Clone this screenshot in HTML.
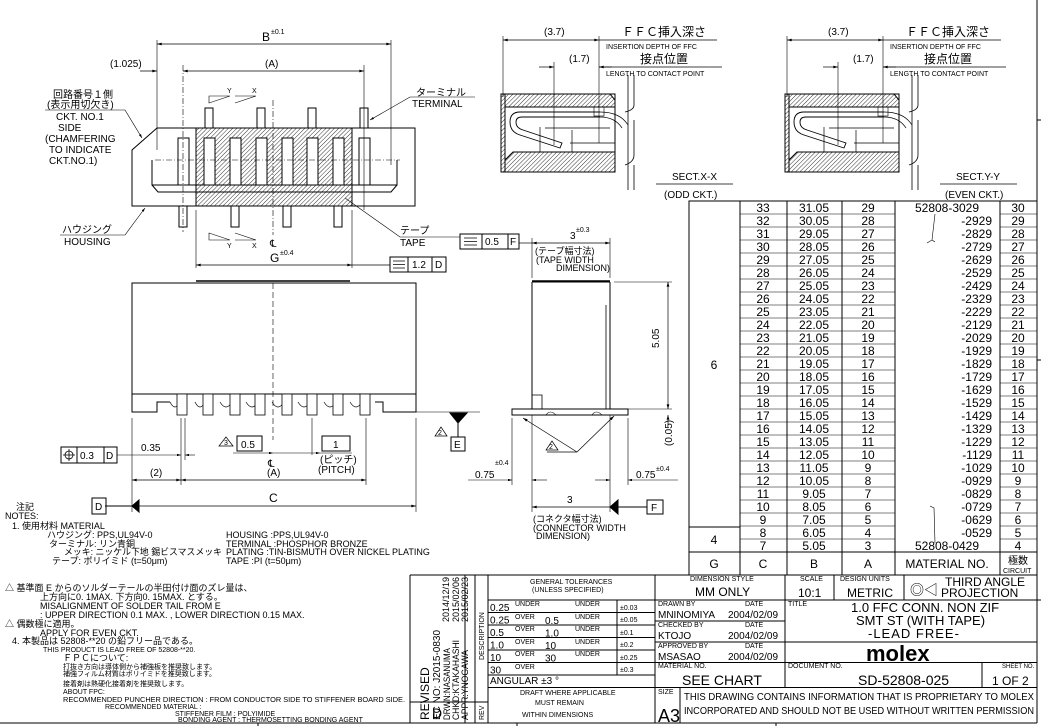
<!DOCTYPE html>
<html><head><meta charset="utf-8"><style>
html,body{margin:0;padding:0;background:#fff;}
svg{display:block;}
text{font-family:"Liberation Sans","Noto Sans CJK JP",sans-serif;fill:#000;}
.s{font-size:7px;}
.m{font-size:9px;}
.n{font-size:10px;}
.t{font-size:12px;}
.b{font-size:14px;}
</style></head><body>
<svg width="1041" height="726" viewBox="0 0 1041 726" xmlns="http://www.w3.org/2000/svg">
<defs>
<pattern id="h" width="3" height="3" patternUnits="userSpaceOnUse" patternTransform="rotate(45)"><line x1="0" y1="0" x2="0" y2="3" stroke="#000" stroke-width="0.8"/></pattern>
<marker id="a" viewBox="0 0 10 6" refX="10" refY="3" markerWidth="8" markerHeight="4" orient="auto-start-reverse"><path d="M0,0L10,3L0,6z" fill="#000"/></marker>
</defs>
<g fill="none" stroke="#000" stroke-width="1">
<line x1="1037" y1="0" x2="1037" y2="723"/>
<line x1="0" y1="723" x2="1037" y2="723"/>
<line x1="258" y1="723" x2="258" y2="726"/><line x1="517" y1="723" x2="517" y2="726"/><line x1="776" y1="723" x2="776" y2="726"/>
<line x1="1037" y1="120" x2="1041" y2="120"/><line x1="1037" y1="360" x2="1041" y2="360"/><line x1="1037" y1="600" x2="1041" y2="600"/>

<!-- TOP VIEW -->
<path d="M157,128H415V206H132V150Z"/>
<path d="M152,160V185H397V160M152,185L158,192H391L397,185"/>
<rect x="196" y="128" width="156" height="78" fill="url(#h)"/>
<rect x="196" y="128" width="156" height="78"/>
<g fill="#fff">
<rect x="178" y="138" width="11" height="47"/><rect x="204" y="138" width="11" height="47"/><rect x="230" y="138" width="11" height="47"/><rect x="256" y="138" width="11" height="47"/><rect x="282" y="138" width="11" height="47"/><rect x="307" y="138" width="11" height="47"/><rect x="333" y="138" width="11" height="47"/><rect x="359" y="138" width="11" height="47"/>
<rect x="205" y="108" width="8" height="20"/><rect x="257" y="108" width="8" height="20"/><rect x="308" y="108" width="8" height="20"/><rect x="360" y="108" width="8" height="20"/>
<rect x="179" y="206" width="8" height="21"/><rect x="231" y="206" width="8" height="21"/><rect x="283" y="206" width="8" height="21"/><rect x="334" y="206" width="8" height="21"/>
</g>
<line x1="155" y1="160" x2="400" y2="160" stroke-dasharray="6,2,1,2" stroke-width="0.6"/>
<line x1="273" y1="100" x2="273" y2="235" stroke-dasharray="6,2,1,2" stroke-width="0.6"/>
<line x1="183" y1="65" x2="183" y2="232" stroke-dasharray="6,2,1,2" stroke-width="0.6"/>
<line x1="157" y1="40" x2="157" y2="150" stroke-width="0.6"/>
<line x1="391" y1="40" x2="391" y2="165" stroke-width="0.6"/>
<line x1="364" y1="65" x2="364" y2="210" stroke-width="0.6"/>
<line x1="157" y1="44" x2="391" y2="44" stroke-width="0.7" marker-start="url(#a)" marker-end="url(#a)"/>
<line x1="183" y1="71" x2="364" y2="71" stroke-width="0.7" marker-start="url(#a)" marker-end="url(#a)"/>
<line x1="140" y1="71" x2="157" y2="71" stroke-width="0.7" marker-end="url(#a)"/>
<line x1="196" y1="210" x2="196" y2="268" stroke-width="0.6"/><line x1="352" y1="210" x2="352" y2="268" stroke-width="0.6"/>
<line x1="196" y1="265" x2="352" y2="265" stroke-width="0.7" marker-start="url(#a)" marker-end="url(#a)"/>
<line x1="352" y1="265" x2="390" y2="265" stroke-width="0.7"/>
<path d="M209,96H230L209,103ZM235,96H256L235,103" stroke-width="0.6"/>
<path d="M209,240H230L209,233ZM235,240H256L235,233" stroke-width="0.6"/>
<path d="M45,110H125L142,138" stroke-width="0.6" marker-end="url(#a)"/>
<path d="M60,235H125L145,208" stroke-width="0.6" marker-end="url(#a)"/>
<path d="M475,97H410L370,120" stroke-width="0.6" marker-end="url(#a)"/>
<path d="M460,237H400L345,198" stroke-width="0.6"/>
<rect x="390" y="257" width="56" height="15"/><line x1="408" y1="257" x2="408" y2="272"/><line x1="432" y1="257" x2="432" y2="272"/>
<path d="M393,261H405M393,264.5H405M393,268H405" stroke-width="0.7"/>

<!-- SECTIONS -->
<g id="sec">
<rect x="501" y="94" width="114" height="78"/>
<path d="M505,94H610L615,100V107H505Z" fill="url(#h)"/>
<path d="M513,152H615V172H505V160Z" fill="url(#h)"/>
<rect x="501" y="94" width="4" height="78" fill="url(#h)"/>
<path d="M505,107H615M540,127V152M545,128H610M570,143H615M572,130V152" stroke-width="0.7"/>
<path d="M628,75V190M634,75V105Q634,110 625,112M634,120V155Q634,162 625,165M634,165V190" stroke-width="0.8"/>
<path d="M600,112H520Q510,112 510,122Q510,132 520,135L560,148L562,143L523,130Q516,128 516,122Q516,117 522,117H600" stroke-width="0.9"/>
<path d="M600,112Q620,112 628,125M600,117Q615,117 622,128" stroke-width="0.7"/>
<rect x="594" y="107" width="10" height="9" stroke-width="0.6"/>
<line x1="503" y1="36" x2="503" y2="97" stroke-width="0.6"/>
<line x1="599" y1="36" x2="599" y2="143" stroke-width="0.6"/>
<line x1="554" y1="62" x2="554" y2="145" stroke-width="0.6"/>
<line x1="503" y1="40" x2="599" y2="40" stroke-width="0.7" marker-start="url(#a)" marker-end="url(#a)"/>
<line x1="599" y1="40" x2="717" y2="40" stroke-width="0.7"/>
<line x1="539" y1="67" x2="554" y2="67" stroke-width="0.7" marker-end="url(#a)"/>
<line x1="599" y1="67" x2="722" y2="67" stroke-width="0.7"/>
<line x1="612" y1="67" x2="599" y2="67" stroke-width="0.7" marker-end="url(#a)"/>
<line x1="656" y1="184" x2="733" y2="184" stroke-width="0.8"/>
</g>
<use href="#sec" x="284"/>

<!-- FRONT VIEW -->
<rect x="132" y="283" width="284" height="111"/>
<line x1="196" y1="281" x2="350" y2="281" stroke-width="1.5"/>
<path d="M132,394V412H157V402H170M375,402H383V412H416V394" />
<path d="M170,402Q175,412 180,402M195,402Q200,412 205,402M220,402Q226,412 232,402M246,402Q252,412 258,402M272,402Q278,412 284,402M298,402Q304,412 310,402M324,402Q330,412 336,402M350,402Q356,412 362,402" stroke-width="0.7"/>
<g fill="#fff" stroke-width="0.8">
<rect x="177" y="394" width="10" height="21"/><rect x="203" y="394" width="10" height="21"/><rect x="230" y="394" width="10" height="21"/><rect x="255" y="394" width="10" height="21"/><rect x="282" y="394" width="10" height="21"/><rect x="307" y="394" width="10" height="21"/><rect x="333" y="394" width="10" height="21"/><rect x="360" y="394" width="10" height="21"/>
</g>
<line x1="273" y1="283" x2="273" y2="440" stroke-dasharray="6,3" stroke-width="0.6"/>
<line x1="416" y1="412" x2="480" y2="412" stroke-width="0.6"/>
<line x1="132" y1="418" x2="132" y2="512" stroke-width="0.6"/><line x1="416" y1="418" x2="416" y2="512" stroke-width="0.6"/>
<line x1="181" y1="418" x2="181" y2="485" stroke-width="0.6"/><line x1="185" y1="418" x2="185" y2="460" stroke-width="0.6"/>
<line x1="366" y1="418" x2="366" y2="485" stroke-width="0.6"/><line x1="312" y1="418" x2="312" y2="455" stroke-width="0.6"/>
<line x1="132" y1="480" x2="181" y2="480" stroke-width="0.7" marker-start="url(#a)" marker-end="url(#a)"/>
<line x1="181" y1="480" x2="366" y2="480" stroke-width="0.7" marker-start="url(#a)" marker-end="url(#a)"/>
<line x1="132" y1="506" x2="416" y2="506" stroke-width="0.7" marker-end="url(#a)"/>
<path d="M132,506L139,500V512Z" fill="#000"/><line x1="105" y1="506" x2="132" y2="506"/>
<rect x="92" y="498" width="14" height="16"/>
<line x1="117" y1="455" x2="181" y2="455" stroke-width="0.6" marker-end="url(#a)"/>
<line x1="195" y1="455" x2="185" y2="455" stroke-width="0.6" marker-end="url(#a)"/>
<rect x="61" y="447" width="56" height="16"/><line x1="77" y1="447" x2="77" y2="463"/><line x1="104" y1="447" x2="104" y2="463"/>
<circle cx="69" cy="455" r="4" stroke-width="0.8"/><path d="M63,455H75M69,449V461" stroke-width="0.8"/>
<path d="M233,446L226,437L219,446Z" stroke-width="0.7"/>
<rect x="237" y="436" width="25" height="15"/><line x1="233" y1="453" x2="273" y2="453" stroke-width="0.6" marker-end="url(#a)"/>
<line x1="273" y1="453" x2="320" y2="453" stroke-width="0.6" marker-end="url(#a)"/>
<rect x="322" y="436" width="28" height="15"/><line x1="320" y1="453" x2="352" y2="453" stroke-width="0.6"/>
<path d="M450,413H467L458,423Z" fill="#000"/><line x1="458" y1="420" x2="458" y2="437"/>
<rect x="451" y="437" width="14" height="14"/>
<path d="M447,436L441,427L435,436Z" stroke-width="0.7"/>

<!-- SIDE VIEW -->
<path d="M532,282V409M610,282V409M532,282H610" />
<line x1="532" y1="281" x2="610" y2="281" stroke-width="1.5"/>
<path d="M606,305V409M532,395H542V409" stroke-width="0.8"/>
<rect x="512" y="409" width="116" height="6"/>
<path d="M546,415Q550,409 556,415M592,415Q596,409 602,415" stroke-width="0.6"/>
<line x1="577" y1="452" x2="523" y2="418" stroke-width="0.7" marker-end="url(#a)"/>
<line x1="577" y1="452" x2="614" y2="416" stroke-width="0.7" marker-end="url(#a)"/>
<line x1="547" y1="452" x2="577" y2="452" stroke-width="0.7"/>
<path d="M558,450L552,441L546,450Z" stroke-width="0.7"/>
<line x1="614" y1="282" x2="672" y2="282" stroke-width="0.6"/>
<line x1="628" y1="409" x2="672" y2="409" stroke-width="0.6"/>
<line x1="668" y1="282" x2="668" y2="409" stroke-width="0.7" marker-start="url(#a)" marker-end="url(#a)"/>
<line x1="668" y1="425" x2="668" y2="415" stroke-width="0.7" marker-end="url(#a)"/>
<line x1="512" y1="418" x2="512" y2="485" stroke-width="0.6"/>
<line x1="532" y1="415" x2="532" y2="512" stroke-width="0.6"/>
<line x1="610" y1="415" x2="610" y2="512" stroke-width="0.6"/>
<line x1="628" y1="418" x2="628" y2="485" stroke-width="0.6"/>
<line x1="468" y1="480" x2="512" y2="480" stroke-width="0.6" marker-end="url(#a)"/>
<line x1="547" y1="480" x2="532" y2="480" stroke-width="0.6" marker-end="url(#a)"/>
<line x1="595" y1="480" x2="610" y2="480" stroke-width="0.6" marker-end="url(#a)"/>
<line x1="678" y1="480" x2="628" y2="480" stroke-width="0.6" marker-end="url(#a)"/>
<line x1="532" y1="507" x2="610" y2="507" stroke-width="0.7" marker-start="url(#a)"/>
<path d="M610,507L618,500V514Z" fill="#000"/><line x1="618" y1="507" x2="647" y2="507"/>
<rect x="647" y="500" width="16" height="14"/>
<line x1="532" y1="238" x2="532" y2="278" stroke-width="0.6"/><line x1="610" y1="238" x2="610" y2="278" stroke-width="0.6"/>
<line x1="532" y1="243" x2="610" y2="243" stroke-width="0.7" marker-start="url(#a)" marker-end="url(#a)"/>
<line x1="519" y1="243" x2="532" y2="243" stroke-width="0.7"/>
<rect x="460" y="234" width="59" height="15"/><line x1="482" y1="234" x2="482" y2="249"/><line x1="508" y1="234" x2="508" y2="249"/>
<path d="M464,238H477M464,241.5H477M464,245H477" stroke-width="0.7"/>

<!-- TABLE -->
<rect x="689" y="201" width="348" height="374"/>
<path d="M740,201V575M787,201V575M842,201V575M895,201V575M1000,201V575"/>
<path d="M689,527H740M689,552H1037"/>
<g stroke-width="0.6">
<path d="M740,214H895M1000,214H1037M740,227H895M1000,227H1037M740,240H895M1000,240H1037M740,253H895M1000,253H1037M740,266H895M1000,266H1037M740,279H895M1000,279H1037M740,292H895M1000,292H1037M740,305H895M1000,305H1037M740,318H895M1000,318H1037M740,331H895M1000,331H1037M740,344H895M1000,344H1037M740,357H895M1000,357H1037M740,370H895M1000,370H1037M740,383H895M1000,383H1037M740,396H895M1000,396H1037M740,409H895M1000,409H1037M740,422H895M1000,422H1037M740,435H895M1000,435H1037M740,448H895M1000,448H1037M740,461H895M1000,461H1037M740,474H895M1000,474H1037M740,487H895M1000,487H1037M740,500H895M1000,500H1037M740,513H895M1000,513H1037M740,526H895M1000,526H1037M740,539H895M1000,539H1037"/>
<path d="M935,214L932,240L927,243M932,240L935,242M935,543L934,508L930,506"/>
</g>

<!-- TITLE BLOCK -->
<path d="M410,575H1037M410,575V723M465,575V723M475,575V723M488,575V723M655,575V723M785,575V687M834,575V600M904,575V600"/>
<path d="M488,600H1037M488,612.5H655M488,625H655M488,637.5H655M488,650H655M488,662.5H655M488,675H655M488,687.5H1037M410,702H488"/>
<path d="M617,600V675M655,621H785M655,642H785M655,662.5H1037M785,642H1037M982,662.5V687.5M680,687.5V723"/>
</g>

<!-- TEXT: top view -->
<text class="t" x="262" y="41">B</text><text class="s" x="271" y="34">±0.1</text>
<text class="n" x="265" y="67">(A)</text>
<text class="n" x="110" y="67">(1.025)</text>
<text class="s" x="227" y="93">Y</text><text class="s" x="252" y="93">X</text>
<text class="s" x="227" y="248">Y</text><text class="s" x="252" y="248">X</text>
<text class="n" x="270" y="247">℄</text>
<text class="t" x="270" y="262">G</text><text class="s" x="280" y="255">±0.4</text>
<text class="n" x="53" y="98">回路番号１側</text>
<text class="n" x="47" y="108">(表示用切欠き)</text>
<text class="n" x="56" y="120">CKT. NO.1</text>
<text class="n" x="58" y="131">SIDE</text>
<text class="n" x="45" y="142">(CHAMFERING</text>
<text class="n" x="49" y="153">TO INDICATE</text>
<text class="n" x="49" y="164">CKT.NO.1)</text>
<text class="n" x="62" y="233">ハウジング</text><text class="n" x="64" y="245">HOUSING</text>
<text class="n" x="416" y="96">ターミナル</text><text class="n" x="412" y="107">TERMINAL</text>
<text class="n" x="400" y="234">テープ</text><text class="n" x="400" y="246">TAPE</text>
<text class="n" x="412" y="268">1.2</text><text class="n" x="435" y="268">D</text>

<g id="sectxt">
<text class="n" x="544" y="35">(3.7)</text>
<text class="t" x="622" y="36">ＦＦＣ挿入深さ</text>
<text class="s" x="606" y="49">INSERTION DEPTH OF FFC</text>
<text class="n" x="569" y="62">(1.7)</text>
<text class="t" x="640" y="63">接点位置</text>
<text class="s" x="606" y="76">LENGTH TO CONTACT POINT</text>
</g>
<use href="#sectxt" x="284"/>
<text class="n" x="672" y="180">SECT.X-X</text><text class="n" x="664" y="198">(ODD CKT.)</text>
<text class="n" x="956" y="180">SECT.Y-Y</text><text class="n" x="945" y="198">(EVEN CKT.)</text>

<text class="n" x="268" y="467">℄</text>
<text class="n" x="141" y="451">0.35</text>
<text class="n" x="150" y="476">(2)</text>
<text class="n" x="267" y="476">(A)</text>
<text class="t" x="269" y="502">C</text>
<text class="n" x="95" y="510">D</text>
<text class="n" x="80" y="459">0.3</text><text class="n" x="106" y="459">D</text>
<text class="s" x="224" y="445">3</text>
<text class="n" x="241" y="448">0.5</text>
<text class="n" x="333" y="448">1</text>
<text class="n" x="320" y="463">(ピッチ)</text>
<text class="n" x="318" y="473">(PITCH)</text>
<text class="n" x="454" y="448">E</text>
<text class="s" x="438" y="435">2</text>
<text class="s" x="549" y="449">2</text>
<text class="n" x="570" y="239">3</text><text class="s" x="576" y="232">±0.3</text>
<text class="n" x="485" y="245">0.5</text><text class="n" x="510" y="245">F</text>
<text class="m" x="535" y="254">(テープ幅寸法)</text>
<text class="m" x="536" y="263">(TAPE WIDTH</text>
<text class="m" x="556" y="271">DIMENSION)</text>
<text class="n" transform="translate(659,348) rotate(-90)">5.05</text>
<text class="n" transform="translate(672,446) rotate(-90)">(0.05)</text>
<text class="n" x="475" y="478">0.75</text><text class="s" x="495" y="465">±0.4</text>
<text class="n" x="636" y="478">0.75</text><text class="s" x="656" y="471">±0.4</text>
<text class="n" x="567" y="503">3</text>
<text class="n" x="651" y="511">F</text>
<text class="m" x="533" y="522">(コネクタ幅寸法)</text>
<text class="m" x="533" y="531">(CONNECTOR WIDTH</text>
<text class="m" x="536" y="539">DIMENSION)</text>

<!-- notes -->
<text class="m" x="16" y="510">注記</text>
<text class="m" x="5" y="519">NOTES:</text>
<text class="m" x="12" y="529">1. 使用材料 MATERIAL</text>
<text class="m" x="47" y="538">ハウジング: PPS,UL94V-0</text>
<text class="m" x="49" y="547">ターミナル: リン青銅</text>
<text class="m" x="64" y="555" textLength="158" lengthAdjust="spacingAndGlyphs">メッキ: ニッケル下地 錫ビスマスメッキ</text>
<text class="m" x="52" y="564">テープ: ポリイミド (t=50μm)</text>
<text class="m" x="226" y="538">HOUSING    :PPS,UL94V-0</text>
<text class="m" x="226" y="547">TERMINAL  :PHOSPHOR BRONZE</text>
<text class="m" x="226" y="555">PLATING    :TIN-BISMUTH OVER NICKEL PLATING</text>
<text class="m" x="226" y="564">TAPE   :PI (t=50μm)</text>
<text class="m" x="5" y="591">△ 基準面 E からのソルダーテールの半田付け面のズレ量は、</text>
<text class="m" x="40" y="600">上方向に0. 1MAX. 下方向0. 15MAX. とする。</text>
<text class="m" x="40" y="609">MISALIGNMENT OF SOLDER TAIL FROM E</text>
<text class="m" x="40" y="618">: UPPER DIRECTION 0.1 MAX.  , LOWER DIRECTION 0.15 MAX.</text>
<text class="m" x="5" y="627">△  偶数極に適用。</text>
<text class="m" x="40" y="636">APPLY FOR EVEN CKT.</text>
<text class="m" x="12" y="644">4. 本製品は 52808-**20 の鉛フリー品である。</text>
<text class="s" x="43" y="652">THIS PRODUCT IS LEAD FREE OF 52808-**20.</text>
<text class="m" x="63" y="661">ＦＰＣについて:</text>
<text class="s" x="63" y="669">打抜き方向は導体側から補強板を推奨致します。</text>
<text class="s" x="63" y="676">補強フィルム材質はポリイミドを推奨致します。</text>
<text class="s" x="63" y="686">接着剤は熱硬化接着剤を推奨致します。</text>
<text class="s" x="63" y="694">ABOUT FPC:</text>
<text class="s" x="63" y="702" textLength="342" lengthAdjust="spacingAndGlyphs">RECOMMENDED PUNCHER DIRECTION : FROM CONDUCTOR SIDE TO STIFFENER BOARD SIDE.</text>
<text class="s" x="105" y="709">RECOMMENDED MATERIAL :</text>
<text class="s" x="175" y="716">STIFFENER FILM : POLYIMIDE</text>
<text class="s" x="178" y="722">BONDING AGENT : THERMOSETTING BONDING AGENT</text>

<!-- table text -->
<g class="t" text-anchor="middle">
<text x="763" y="212">33</text><text x="814" y="212">31.05</text><text x="868" y="212">29</text><text x="947" y="212">52808-3029</text><text x="1018" y="212">30</text>
<text x="763" y="225">32</text><text x="814" y="225">30.05</text><text x="868" y="225">28</text><text x="1018" y="225">29</text>
<text x="763" y="238">31</text><text x="814" y="238">29.05</text><text x="868" y="238">27</text><text x="1018" y="238">28</text>
<text x="763" y="251">30</text><text x="814" y="251">28.05</text><text x="868" y="251">26</text><text x="1018" y="251">27</text>
<text x="763" y="264">29</text><text x="814" y="264">27.05</text><text x="868" y="264">25</text><text x="1018" y="264">26</text>
<text x="763" y="277">28</text><text x="814" y="277">26.05</text><text x="868" y="277">24</text><text x="1018" y="277">25</text>
<text x="763" y="290">27</text><text x="814" y="290">25.05</text><text x="868" y="290">23</text><text x="1018" y="290">24</text>
<text x="763" y="303">26</text><text x="814" y="303">24.05</text><text x="868" y="303">22</text><text x="1018" y="303">23</text>
<text x="763" y="316">25</text><text x="814" y="316">23.05</text><text x="868" y="316">21</text><text x="1018" y="316">22</text>
<text x="763" y="329">24</text><text x="814" y="329">22.05</text><text x="868" y="329">20</text><text x="1018" y="329">21</text>
<text x="763" y="342">23</text><text x="814" y="342">21.05</text><text x="868" y="342">19</text><text x="1018" y="342">20</text>
<text x="763" y="355">22</text><text x="814" y="355">20.05</text><text x="868" y="355">18</text><text x="1018" y="355">19</text>
<text x="763" y="368">21</text><text x="814" y="368">19.05</text><text x="868" y="368">17</text><text x="1018" y="368">18</text>
<text x="763" y="381">20</text><text x="814" y="381">18.05</text><text x="868" y="381">16</text><text x="1018" y="381">17</text>
<text x="763" y="394">19</text><text x="814" y="394">17.05</text><text x="868" y="394">15</text><text x="1018" y="394">16</text>
<text x="763" y="407">18</text><text x="814" y="407">16.05</text><text x="868" y="407">14</text><text x="1018" y="407">15</text>
<text x="763" y="420">17</text><text x="814" y="420">15.05</text><text x="868" y="420">13</text><text x="1018" y="420">14</text>
<text x="763" y="433">16</text><text x="814" y="433">14.05</text><text x="868" y="433">12</text><text x="1018" y="433">13</text>
<text x="763" y="446">15</text><text x="814" y="446">13.05</text><text x="868" y="446">11</text><text x="1018" y="446">12</text>
<text x="763" y="459">14</text><text x="814" y="459">12.05</text><text x="868" y="459">10</text><text x="1018" y="459">11</text>
<text x="763" y="472">13</text><text x="814" y="472">11.05</text><text x="868" y="472">9</text><text x="1018" y="472">10</text>
<text x="763" y="485">12</text><text x="814" y="485">10.05</text><text x="868" y="485">8</text><text x="1018" y="485">9</text>
<text x="763" y="498">11</text><text x="814" y="498">9.05</text><text x="868" y="498">7</text><text x="1018" y="498">8</text>
<text x="763" y="511">10</text><text x="814" y="511">8.05</text><text x="868" y="511">6</text><text x="1018" y="511">7</text>
<text x="763" y="524">9</text><text x="814" y="524">7.05</text><text x="868" y="524">5</text><text x="1018" y="524">6</text>
<text x="763" y="537">8</text><text x="814" y="537">6.05</text><text x="868" y="537">4</text><text x="1018" y="537">5</text>
<text x="763" y="550">7</text><text x="814" y="550">5.05</text><text x="868" y="550">3</text><text x="947" y="550">52808-0429</text><text x="1018" y="550">4</text>
<text x="714" y="369">6</text><text x="714" y="544">4</text>
<text x="714" y="568">G</text><text x="763" y="568">C</text><text x="814" y="568">B</text><text x="868" y="568">A</text><text x="947" y="568">MATERIAL NO.</text>
</g>
<g class="t" text-anchor="end">
<text x="992" y="225">-2929</text><text x="992" y="238">-2829</text><text x="992" y="251">-2729</text><text x="992" y="264">-2629</text><text x="992" y="277">-2529</text><text x="992" y="290">-2429</text><text x="992" y="303">-2329</text><text x="992" y="316">-2229</text><text x="992" y="329">-2129</text><text x="992" y="342">-2029</text><text x="992" y="355">-1929</text><text x="992" y="368">-1829</text><text x="992" y="381">-1729</text><text x="992" y="394">-1629</text><text x="992" y="407">-1529</text><text x="992" y="420">-1429</text><text x="992" y="433">-1329</text><text x="992" y="446">-1229</text><text x="992" y="459">-1129</text><text x="992" y="472">-1029</text><text x="992" y="485">-0929</text><text x="992" y="498">-0829</text><text x="992" y="511">-0729</text><text x="992" y="524">-0629</text><text x="992" y="537">-0529</text>
</g>
<text class="n" x="1008" y="564">極数</text><text class="s" x="1003" y="573">CIRCUIT</text>

<!-- title block text -->
<text class="t" transform="translate(429,720) rotate(-90)">REVISED</text>
<text class="n" transform="translate(440,720) rotate(-90)">EC NO: J2015-0830</text>
<text class="m" transform="translate(450,720) rotate(-90)" textLength="72" lengthAdjust="spacingAndGlyphs">DRWN:NASANUMA</text>
<text class="m" transform="translate(459,720) rotate(-90)" textLength="80" lengthAdjust="spacingAndGlyphs">CHKD:KTAKAHASHI</text>
<text class="m" transform="translate(468,720) rotate(-90)" textLength="70" lengthAdjust="spacingAndGlyphs">APPR:YNOGAWA</text>
<text class="m" transform="translate(449,622) rotate(-90)">2014/12/19</text>
<text class="m" transform="translate(459,622) rotate(-90)">2015/02/06</text>
<text class="m" transform="translate(468,622) rotate(-90)">2015/02/23</text>
<text class="s" transform="translate(484,660) rotate(-90)">DESCRIPTION</text>
<text class="s" transform="translate(484,720) rotate(-90)">REV</text>
<text class="b" x="432" y="718">D</text>
<text class="s" x="530" y="584">GENERAL TOLERANCES</text>
<text class="s" x="532" y="592">(UNLESS SPECIFIED)</text>
<g class="n">
<text x="490" y="611">0.25</text><text x="490" y="623.5">0.25</text><text x="490" y="636">0.5</text><text x="490" y="648.5">1.0</text><text x="490" y="661">10</text><text x="490" y="673.5">30</text>
<text x="545" y="624">0.5</text><text x="545" y="636.5">1.0</text><text x="545" y="649">10</text><text x="545" y="661.5">30</text>
</g>
<g class="s">
<text x="515" y="606">UNDER</text><text x="515" y="619">OVER</text><text x="515" y="631">OVER</text><text x="515" y="644">OVER</text><text x="515" y="656">OVER</text><text x="515" y="669">OVER</text>
<text x="575" y="606">UNDER</text><text x="575" y="619">UNDER</text><text x="575" y="631">UNDER</text><text x="575" y="644">UNDER</text><text x="575" y="656">UNDER</text>
<text x="620" y="610">±0.03</text><text x="620" y="622">±0.05</text><text x="620" y="635">±0.1</text><text x="620" y="647">±0.2</text><text x="620" y="660">±0.25</text><text x="620" y="672">±0.3</text>
<text x="520" y="695">DRAFT WHERE APPLICABLE</text><text x="535" y="705">MUST REMAIN</text><text x="522" y="717">WITHIN DIMENSIONS</text>
<text x="690" y="581">DIMENSION STYLE</text><text x="800" y="581">SCALE</text><text x="840" y="581">DESIGN UNITS</text>
<text x="658" y="606">DRAWN BY</text><text x="745" y="606">DATE</text>
<text x="658" y="627">CHECKED BY</text><text x="745" y="627">DATE</text>
<text x="658" y="648">APPROVED BY</text><text x="745" y="648">DATE</text>
<text x="658" y="668">MATERIAL NO.</text><text x="788" y="668">DOCUMENT NO.</text>
<text x="788" y="606">TITLE</text><text x="658" y="694">SIZE</text>
</g>
<text style="font-size:6px" x="1002" y="668">SHEET NO.</text>
<text class="n" x="490" y="684">ANGULAR    ±3   °</text>
<text class="t" x="695" y="596">MM ONLY</text>
<text class="t" x="798" y="597">10:1</text>
<text class="t" x="847" y="597">METRIC</text>
<text class="b" x="910" y="595">◎◁</text>
<text class="t" x="945" y="586">THIRD ANGLE</text><text class="t" x="941" y="597">PROJECTION</text>
<text class="n" x="658" y="618">MNINOMIYA</text><text class="n" x="728" y="618">2004/02/09</text>
<text class="n" x="658" y="639">KTOJO</text><text class="n" x="728" y="639">2004/02/09</text>
<text class="n" x="658" y="660">MSASAO</text><text class="n" x="728" y="660">2004/02/09</text>
<text style="font-size:13px" x="851" y="612">1.0 FFC CONN. NON ZIF</text>
<text style="font-size:13px" x="856" y="625">SMT ST (WITH TAPE)</text>
<text style="font-size:13px" x="868" y="638" letter-spacing="1">-LEAD FREE-</text>
<text x="866" y="661" style="font-size:22px;font-weight:bold;font-family:'Liberation Sans',sans-serif">molex</text>
<text class="b" x="682" y="685">SEE CHART</text>
<text class="b" x="858" y="685">SD-52808-025</text>
<text class="t" x="992" y="685">1 OF 2</text>
<text style="font-size:18px" x="658" y="722">A3</text>
<text class="n" x="684" y="700" textLength="350" lengthAdjust="spacingAndGlyphs">THIS DRAWING CONTAINS INFORMATION THAT IS PROPRIETARY TO MOLEX</text>
<text class="n" x="684" y="714" textLength="350" lengthAdjust="spacingAndGlyphs">INCORPORATED AND SHOULD NOT BE USED WITHOUT WRITTEN PERMISSION</text>
</svg>
</body></html>
